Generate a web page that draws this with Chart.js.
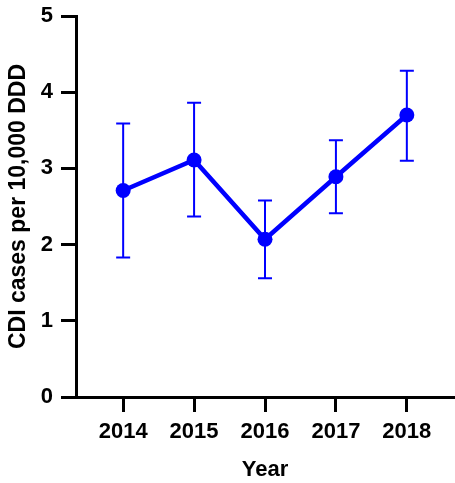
<!DOCTYPE html>
<html>
<head>
<meta charset="utf-8">
<script src="https://cdn.jsdelivr.net/npm/chart.js@4.4.0/dist/chart.umd.min.js"></script>
<style>
  body { margin: 0; background: #fff; }
  #wrap { width: 455px; height: 483px; }
</style>
</head>
<body>
<div id="wrap"><canvas id="chart" width="455" height="483"></canvas></div>
<script>
const years = [2014, 2015, 2016, 2017, 2018];
const means = [2.71, 3.11, 2.07, 2.89, 3.70];
const upper = [3.59, 3.86, 2.58, 3.37, 4.28];
const lower = [1.83, 2.37, 1.56, 2.41, 3.10];
const yTicks = [0, 1, 2, 3, 4, 5];

const blue = '#0000ff';
const font = { family: 'Liberation Sans, Arial, sans-serif', size: 22, weight: 'bold' };
const titleFont = { family: 'Liberation Sans, Arial, sans-serif', size: 23, weight: 'bold' };

// error bars, drawn with the chart's own scales
const errorBars = {
    id: 'errorBars',
    beforeDatasetsDraw(chart) {
        const { ctx, scales: { x, y } } = chart;
        ctx.save();
        ctx.strokeStyle = blue;
        ctx.lineWidth = 2;
        years.forEach((yr, i) => {
            const px = x.getPixelForValue(yr);
            const top = y.getPixelForValue(upper[i]);
            const bot = y.getPixelForValue(lower[i]);
            ctx.beginPath();
            ctx.moveTo(px, top);
            ctx.lineTo(px, bot);
            ctx.moveTo(px - 7, top);
            ctx.lineTo(px + 7, top);
            ctx.moveTo(px - 7, bot);
            ctx.lineTo(px + 7, bot);
            ctx.stroke();
        });
        ctx.restore();
    }
};

const data = {
    datasets: [{
        data: years.map((yr, i) => ({ x: yr, y: means[i] })),
        borderColor: blue,
        backgroundColor: blue,
        borderWidth: 4.5,
        pointRadius: 7.5,
        pointHoverRadius: 7.5,
        pointBorderWidth: 0,
        tension: 0,
    }]
};

const options = {
    responsive: false,
    animation: false,
    layout: { autoPadding: false, padding: { top: 16, right: 1, left: 5, bottom: 0 } },
    plugins: {
        legend: { display: false },
        tooltip: { enabled: false },
    },
    scales: {
        x: {
            type: 'linear',
            min: 2013.335,
            max: 2018.665,
            afterBuildTicks: (scale) => { scale.ticks = years.map(v => ({ value: v })); },
            afterFit: (scale) => { scale.height = 86; scale.paddingLeft = 0; scale.paddingRight = 0; },
            border: { display: true, color: '#000', width: 3 },
            grid: { drawOnChartArea: false, drawTicks: true, tickLength: 15, lineWidth: 3, color: '#000' },
            ticks: { color: '#000', font, padding: 7, callback: (v) => String(v) },
            title: { display: true, text: 'Year', color: '#000', font, padding: { top: 6, bottom: 0 } },
        },
        y: {
            min: 0,
            max: 5,
            afterBuildTicks: (scale) => { scale.ticks = yTicks.map(v => ({ value: v })); },
            afterFit: (scale) => { scale.width = 71; scale.paddingTop = 0; scale.paddingBottom = 0; },
            border: { display: true, color: '#000', width: 3 },
            grid: { drawOnChartArea: false, drawTicks: true, tickLength: 15, lineWidth: 3, color: '#000' },
            ticks: { color: '#000', font, padding: 8 },
            title: { display: true, text: 'CDI cases per 10,000 DDD', color: '#000', font: titleFont, padding: { top: 0, bottom: 4 } },
        }
    }
};

new Chart(document.getElementById('chart'), {
    type: 'line',
    data,
    options,
    plugins: [errorBars]
});
</script>
</body>
</html>
